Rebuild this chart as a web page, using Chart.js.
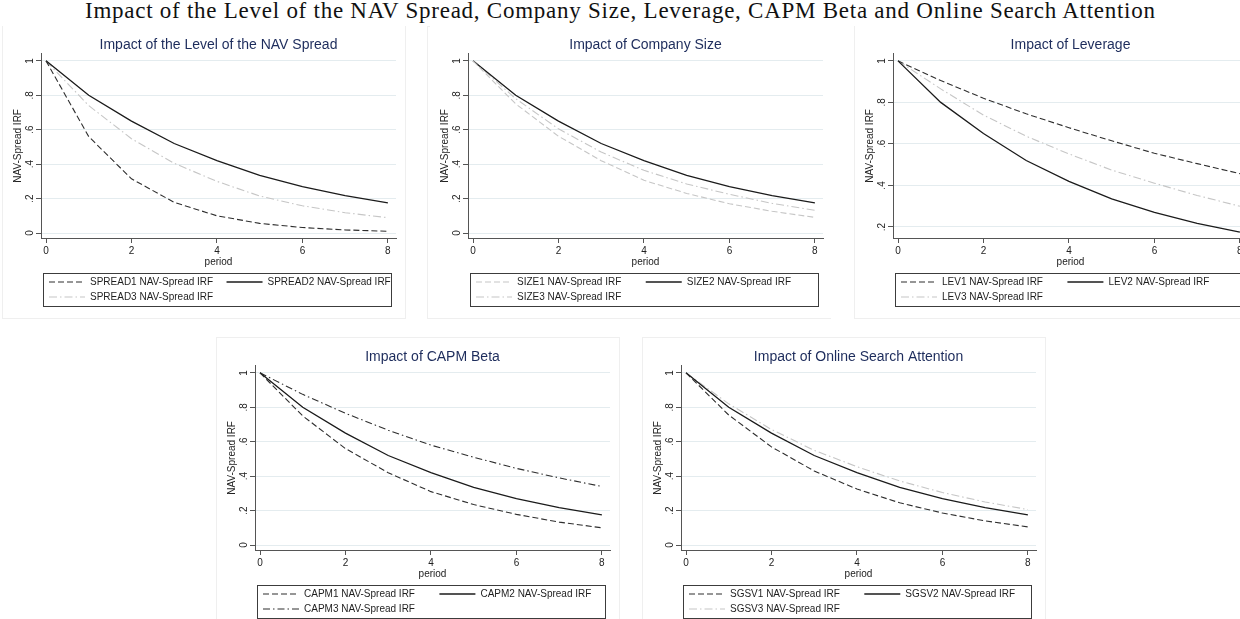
<!DOCTYPE html>
<html>
<head>
<meta charset="utf-8">
<script src="https://cdn.jsdelivr.net/npm/chart.js@4.4.1/dist/chart.umd.min.js"></script>
<style>
  html, body { margin: 0; padding: 0; background: #ffffff; }
  body { width: 1240px; height: 619px; overflow: hidden; position: relative; }
  #mainTitle { position: absolute; top: -2px; left: 0; white-space: nowrap;
    font-family: "Liberation Serif", "DejaVu Serif", serif; font-size: 23px; color: #111; line-height: 26px; }
  .panel { position: absolute; width: 402px; height: 292px; background: #fff; box-sizing: border-box; }
  .panel canvas { position: absolute; left: 0; top: 0; }
  .frame { position: absolute; border: 1px solid #efefef; pointer-events: none; }
</style>
</head>
<body>
<div id="mainTitle">Impact of the Level of the NAV Spread, Company Size, Leverage, CAPM Beta and Online Search Attention</div>

<div class="frame" style="left:2px;top:26px;width:402px;height:291px"></div>
<div class="frame" style="left:427px;top:26px;width:402px;height:291px"></div>
<div class="frame" style="left:854px;top:26px;width:402px;height:291px"></div>
<div class="frame" style="left:216px;top:337px;width:402px;height:300px"></div>
<div class="frame" style="left:642px;top:337px;width:402px;height:300px"></div>

<div class="panel" style="left:3px;top:26px"><canvas id="c1" width="402" height="292"></canvas></div>
<div class="panel" style="left:430px;top:26px"><canvas id="c2" width="402" height="292"></canvas></div>
<div class="panel" style="left:855px;top:26px"><canvas id="c3" width="402" height="292"></canvas></div>
<div class="panel" style="left:217px;top:338px"><canvas id="c4" width="402" height="292"></canvas></div>
<div class="panel" style="left:643px;top:338px"><canvas id="c5" width="402" height="292"></canvas></div>

<script>
// ---------- DATA ----------
const periods = [0, 1, 2, 3, 4, 5, 6, 7, 8];

const spread1 = [1, 0.56, 0.315, 0.178, 0.10, 0.056, 0.032, 0.018, 0.010];
const spread2 = [1, 0.80, 0.650, 0.520, 0.42, 0.335, 0.270, 0.217, 0.175];
const spread3 = [1, 0.74, 0.548, 0.405, 0.30, 0.215, 0.158, 0.118, 0.089];

const size1 = [1, 0.75, 0.562, 0.420, 0.306, 0.230, 0.170, 0.126, 0.091];
const size2 = [1, 0.80, 0.650, 0.520, 0.420, 0.335, 0.270, 0.217, 0.175];
const size3 = [1, 0.78, 0.605, 0.470, 0.364, 0.285, 0.225, 0.172, 0.132];

const lev1 = [1, 0.905, 0.820, 0.745, 0.678, 0.615, 0.555, 0.505, 0.457];
const lev2 = [1, 0.800, 0.650, 0.520, 0.420, 0.335, 0.270, 0.217, 0.175];
const lev3 = [1, 0.865, 0.739, 0.637, 0.552, 0.474, 0.411, 0.352, 0.300];

const capm1 = [1, 0.750, 0.560, 0.420, 0.310, 0.235, 0.178, 0.133, 0.100];
const capm2 = [1, 0.800, 0.650, 0.520, 0.420, 0.335, 0.270, 0.217, 0.175];
const capm3 = [1, 0.875, 0.765, 0.667, 0.580, 0.510, 0.445, 0.390, 0.340];

const sgsv1 = [1, 0.755, 0.570, 0.430, 0.325, 0.245, 0.186, 0.140, 0.105];
const sgsv2 = [1, 0.800, 0.650, 0.520, 0.420, 0.335, 0.270, 0.217, 0.175];
const sgsv3 = [1, 0.820, 0.671, 0.550, 0.455, 0.372, 0.305, 0.250, 0.206];

const xTicks = [0, 2, 4, 6, 8];
const xTickLabels = ['0', '2', '4', '6', '8'];
const yTicks = [0, 0.2, 0.4, 0.6, 0.8, 1];
const yTickLabels = ['0', '.2', '.4', '.6', '.8', '1'];
const yTicksLev = [0.2, 0.4, 0.6, 0.8, 1];
const yTickLabelsLev = ['.2', '.4', '.6', '.8', '1'];

const xTitle = 'period';
const yTitle = 'NAV-Spread IRF';

// ---------- STYLES ----------
const STY = {
  solid:       { borderColor: '#1b1b1b', borderWidth: 1.3, borderDash: [] },
  darkDash:    { borderColor: '#2e2e2e', borderWidth: 1.1, borderDash: [6, 3] },
  darkDashDot: { borderColor: '#2e2e2e', borderWidth: 1.1, borderDash: [7, 3, 1.5, 3] },
  lightDash:   { borderColor: '#c6c6c6', borderWidth: 1.1, borderDash: [6, 3] },
  lightDashDot:{ borderColor: '#c6c6c6', borderWidth: 1.1, borderDash: [8, 3, 1.5, 3] }
};

const FONT = '"Liberation Sans", Arial, Helvetica, sans-serif';

function mkDataset(label, values, style) {
  return Object.assign({
    label: label,
    data: periods.map((p, i) => ({ x: p, y: values[i] })),
    pointRadius: 0,
    pointStyle: 'line',
    tension: 0,
    fill: false
  }, style);
}

// plugin: shift legend a little and draw the Stata-like box around it
const legendBoxPlugin = {
  id: 'legendBox',
  afterLayout(chart) {
    const lg = chart.legend;
    if (lg) { lg.left += 3; lg.right += 3; }
  },
  afterDraw(chart) {
    const lg = chart.legend, ca = chart.chartArea, ctx = chart.ctx;
    ctx.save();
    ctx.strokeStyle = '#3c3c3c';
    ctx.lineWidth = 1;
    ctx.setLineDash([]);
    ctx.strokeRect(Math.round(ca.left + 2) + 0.5, Math.round(lg.top + 1) + 0.5,
                   Math.round(ca.width - 7), 33);
    ctx.restore();
  }
};

function makeChart(id, cfg) {
  const ctx = document.getElementById(id);
  const colOffset = cfg.colOffset;
  return new Chart(ctx, {
    type: 'line',
    data: { datasets: cfg.datasets },
    plugins: [legendBoxPlugin],
    options: {
      responsive: false,
      devicePixelRatio: 1,
      animation: false,
      events: [],
      layout: { padding: { left: 0, right: 9, top: 0, bottom: 6 } },
      plugins: {
        title: {
          display: true, text: cfg.title, fullSize: false,
          color: '#1d2c5c',
          font: { family: FONT, size: 14, weight: 'normal' },
          padding: { top: 11, bottom: 0 }
        },
        legend: {
          display: true, position: 'bottom', align: 'start', fullSize: false,
          labels: {
            usePointStyle: true, pointStyle: 'line', pointStyleWidth: 36,
            boxWidth: 36, boxHeight: 10, padding: 5,
            color: '#1e1e1e',
            font: { family: FONT, size: 10 },
            generateLabels(chart) {
              const items = Chart.defaults.plugins.legend.labels.generateLabels(chart);
              const c = chart.ctx;
              c.save();
              c.font = '10px ' + FONT;
              const sp = c.measureText(' ').width;
              items.forEach((it, i) => {
                const ds = chart.data.datasets[it.datasetIndex];
                it.pointStyle = 'line';
                it.fillStyle = 'rgba(0,0,0,0)';
                it.strokeStyle = ds.borderColor;
                it.lineWidth = ds.borderWidth;
                it.lineDash = ds.borderDash;
                it.lineDashOffset = 0;
                it.fontColor = '#1e1e1e';
                if (i % 2 === 0) {
                  const w = c.measureText(it.text).width;
                  const need = colOffset - 46 - w;
                  const n = Math.max(0, Math.round(need / sp));
                  it.text = it.text + ' '.repeat(n);
                }
              });
              c.restore();
              return items;
            }
          }
        },
        tooltip: { enabled: false }
      },
      scales: {
        x: {
          type: 'linear', min: -0.117, max: 8.19,
          afterBuildTicks(scale) { scale.ticks = xTicks.map(v => ({ value: v })); },
          afterFit(scale) { scale.height = 34; },
          ticks: {
            color: '#222', font: { family: FONT, size: 10 }, padding: 2,
            maxRotation: 0, minRotation: 0,
            callback: (v) => xTickLabels[xTicks.indexOf(v)]
          },
          grid: { drawOnChartArea: false, drawTicks: true, tickLength: 5, tickColor: '#555', tickWidth: 1 },
          border: { display: true, color: '#555', width: 1 },
          title: { display: true, text: xTitle, color: '#222', font: { family: FONT, size: 10 }, padding: { top: 0, bottom: 4 } }
        },
        y: {
          type: 'linear', min: cfg.ymin, max: cfg.ymax,
          afterBuildTicks(scale) { scale.ticks = cfg.yT.map(v => ({ value: v })); },
          afterFit(scale) { scale.width = 38; },
          ticks: {
            color: '#222', font: { family: FONT, size: 10 }, padding: 2,
            minRotation: 90, maxRotation: 90, crossAlign: 'center',
            callback: (v) => cfg.yL[cfg.yT.indexOf(v)]
          },
          grid: { drawOnChartArea: true, color: '#e4ecef', lineWidth: 1, drawTicks: true, tickLength: 5, tickColor: '#555' },
          border: { display: true, color: '#555', width: 1 },
          title: { display: true, text: yTitle, color: '#222', font: { family: FONT, size: 10 }, padding: { top: 9, bottom: 0 } }
        }
      }
    }
  });
}

makeChart('c1', {
  title: 'Impact of the Level of the NAV Spread',
  ymin: -0.029, ymax: 1.041, yT: yTicks, yL: yTickLabels, colOffset: 178,
  datasets: [
    mkDataset('SPREAD1 NAV-Spread IRF', spread1, STY.darkDash),
    mkDataset('SPREAD2 NAV-Spread IRF', spread2, STY.solid),
    mkDataset('SPREAD3 NAV-Spread IRF', spread3, STY.lightDashDot)
  ]
});
makeChart('c2', {
  title: 'Impact of Company Size',
  ymin: -0.029, ymax: 1.041, yT: yTicks, yL: yTickLabels, colOffset: 170,
  datasets: [
    mkDataset('SIZE1 NAV-Spread IRF', size1, STY.lightDash),
    mkDataset('SIZE2 NAV-Spread IRF', size2, STY.solid),
    mkDataset('SIZE3 NAV-Spread IRF', size3, STY.lightDashDot)
  ]
});
makeChart('c3', {
  title: 'Impact of Leverage',
  ymin: 0.147, ymax: 1.034, yT: yTicksLev, yL: yTickLabelsLev, colOffset: 167,
  datasets: [
    mkDataset('LEV1 NAV-Spread IRF', lev1, STY.darkDash),
    mkDataset('LEV2 NAV-Spread IRF', lev2, STY.solid),
    mkDataset('LEV3 NAV-Spread IRF', lev3, STY.lightDashDot)
  ]
});
makeChart('c4', {
  title: 'Impact of CAPM Beta',
  ymin: -0.029, ymax: 1.041, yT: yTicks, yL: yTickLabels, colOffset: 176,
  datasets: [
    mkDataset('CAPM1 NAV-Spread IRF', capm1, STY.darkDash),
    mkDataset('CAPM2 NAV-Spread IRF', capm2, STY.solid),
    mkDataset('CAPM3 NAV-Spread IRF', capm3, STY.darkDashDot)
  ]
});
makeChart('c5', {
  title: 'Impact of Online Search Attention',
  ymin: -0.029, ymax: 1.041, yT: yTicks, yL: yTickLabels, colOffset: 175,
  datasets: [
    mkDataset('SGSV1 NAV-Spread IRF', sgsv1, STY.darkDash),
    mkDataset('SGSV2 NAV-Spread IRF', sgsv2, STY.solid),
    mkDataset('SGSV3 NAV-Spread IRF', sgsv3, STY.lightDashDot)
  ]
});

// fit main title to span ~85..1155 px
(function () {
  const el = document.getElementById('mainTitle');
  const txt = el.textContent;
  const w = el.getBoundingClientRect().width;
  const target = 1070;
  const ls = (target - w) / (txt.length - 1);
  el.style.letterSpacing = ls + 'px';
  const w2 = el.getBoundingClientRect().width - ls;
  el.style.left = Math.round(620 - w2 / 2) + 'px';
})();
</script>
</body>
</html>
